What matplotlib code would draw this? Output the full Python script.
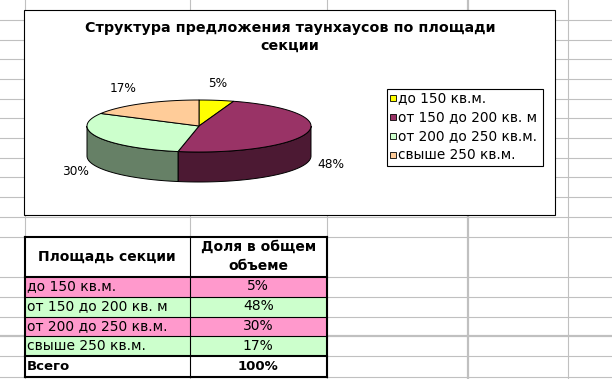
import numpy as np
import matplotlib
matplotlib.use('Agg')
import matplotlib.pyplot as plt
from matplotlib.patches import Polygon, Rectangle

plt.rcParams['font.family'] = ['DejaVu Sans']

# данные диаграммы и таблицы
categories = ['до 150 кв.м.', 'от 150 до 200 кв. м', 'от 200 до 250 кв.м.', 'свыше 250 кв.м.']
shares = [5, 48, 30, 17]
title = 'Структура предложения таунхаусов по площади\nсекции'
col_headers = ['Площадь секции', 'Доля в общем\nобъеме']
total_label = 'Всего'

top_colors = ['#ffff00', '#993366', '#ccffcc', '#ffcc99']
side_colors = ['#808000', '#4c1933', '#668066', '#806633']
row_colors = ['#ff99cc', '#ccffcc', '#ff99cc', '#ccffcc']

fig = plt.figure(figsize=(6.12, 3.79), dpi=100)
ax = fig.add_axes([0, 0, 1, 1])
ax.set_xlim(0, 612)
ax.set_ylim(379, 0)
ax.axis('off')

# сетка листа Excel
grid_y = [20, 39.5, 59, 79, 99, 118, 138, 157.5, 177, 197, 216.5, 236.5,
          276.5, 296.5, 316.5, 356, 376.5]
grid_x = [25, 189.5, 327, 568]
for y in grid_y:
    ax.axhline(y, color='#c0c0c0', lw=0.8, zorder=0)
for x in grid_x:
    ax.axvline(x, color='#c0c0c0', lw=0.8, zorder=0)
ax.axhline(335.5, color='#c0c0c0', lw=1.6, zorder=0)
ax.axvline(467.5, color='#c0c0c0', lw=1.6, zorder=0)

# область диаграммы
ax.add_patch(Rectangle((24, 9.5), 530.5, 205.5, facecolor='white',
                       edgecolor='black', lw=0.8, zorder=1))
ax.text(290, 37, title, ha='center', va='center', fontsize=10.3,
        fontweight='bold', linespacing=1.4, zorder=5)

# объёмная круговая диаграмма
cx, cy, rx, ry, depth = 199, 126, 112, 26, 30
total = sum(shares)
edges = np.concatenate([[0], np.cumsum(shares) / total * 2 * np.pi])


def ell(t):
    return cx + rx * np.sin(t), cy - ry * np.cos(t)


for i in range(len(shares)):
    lo = max(edges[i], np.pi / 2)
    hi = min(edges[i + 1], 3 * np.pi / 2)
    if lo < hi:
        t = np.linspace(lo, hi, 80)
        x, y = ell(t)
        pts = np.column_stack([np.r_[x, x[::-1]], np.r_[y, (y + depth)[::-1]]])
        ax.add_patch(Polygon(pts, closed=True, facecolor=side_colors[i],
                             edgecolor='black', lw=0.7, zorder=2))

for i in range(len(shares)):
    t = np.linspace(edges[i], edges[i + 1], 120)
    x, y = ell(t)
    pts = np.column_stack([np.r_[cx, x], np.r_[cy, y]])
    ax.add_patch(Polygon(pts, closed=True, facecolor=top_colors[i],
                         edgecolor='black', lw=0.7, zorder=3))

for i, v in enumerate(shares):
    m = (edges[i] + edges[i + 1]) / 2
    s, c = np.sin(m), np.cos(m)
    lx = cx + (rx + 10) * s
    ly = cy - (ry + 10) * c + (depth if c < 0 else 0)
    ha = 'center' if abs(s) < 0.3 else ('left' if s > 0 else 'right')
    va = 'bottom' if c > 0.3 else 'center'
    ax.text(lx, ly, f'{v}%', ha=ha, va=va, fontsize=8.7, zorder=5)

# легенда
ax.add_patch(Rectangle((387, 88.5), 156, 77, facecolor='white',
                       edgecolor='black', lw=0.8, zorder=4))
for i, name in enumerate(categories):
    yy = 98 + 19 * i
    ax.add_patch(Rectangle((389.5, yy - 3), 6, 6, facecolor=top_colors[i],
                           edgecolor='black', lw=0.6, zorder=5))
    ax.text(398.5, yy, name, ha='left', va='center', fontsize=9.8, zorder=5)

# таблица
x0, x1, x2 = 25, 189.5, 327
row_edges = [236.5, 276.5, 296.5, 316.5, 335.5, 356, 376.5]
fills = ['white'] + row_colors + ['white']
for r in range(len(row_edges) - 1):
    ax.add_patch(Rectangle((x0, row_edges[r]), x2 - x0,
                           row_edges[r + 1] - row_edges[r],
                           facecolor=fills[r], edgecolor='none', zorder=1))
for y in row_edges[2:-2]:
    ax.plot([x0, x2], [y, y], color='black', lw=0.8, zorder=2)
ax.plot([x1, x1], [row_edges[0], row_edges[-1]], color='black', lw=0.8, zorder=2)
for y in [row_edges[0], row_edges[1], row_edges[-2], row_edges[-1]]:
    ax.plot([x0, x2], [y, y], color='black', lw=1.5, zorder=3)
for x in [x0, x2]:
    ax.plot([x, x], [row_edges[0], row_edges[-1]], color='black', lw=1.5, zorder=3)

hy = (row_edges[0] + row_edges[1]) / 2
ax.text((x0 + x1) / 2, hy, col_headers[0], ha='center', va='center',
        fontsize=10, fontweight='bold', zorder=5)
ax.text((x1 + x2) / 2, hy, col_headers[1], ha='center', va='center',
        fontsize=10, fontweight='bold', linespacing=1.5, zorder=5)

for i, (name, v) in enumerate(zip(categories, shares)):
    ym = (row_edges[i + 1] + row_edges[i + 2]) / 2
    ax.text(x0 + 2, ym, name, ha='left', va='center', fontsize=10, zorder=5)
    ax.text((x1 + x2) / 2, ym, f'{v}%', ha='center', va='center',
            fontsize=10, zorder=5)

ym = (row_edges[-2] + row_edges[-1]) / 2
ax.text(x0 + 2, ym, total_label, ha='left', va='center', fontsize=9.5,
        fontweight='bold', zorder=5)
ax.text((x1 + x2) / 2, ym, f'{total}%', ha='center', va='center',
        fontsize=9.5, fontweight='bold', zorder=5)

fig.savefig('out.png', dpi=100)
